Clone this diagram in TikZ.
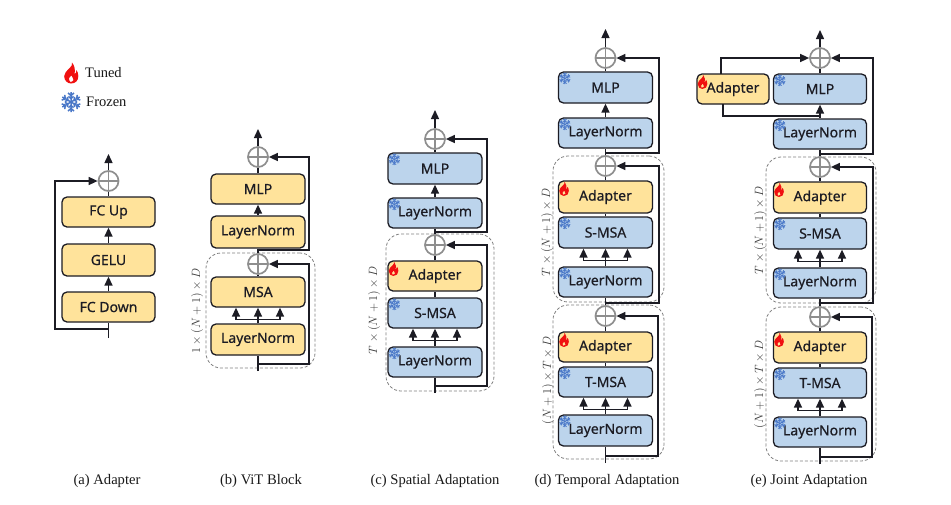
\documentclass[tikz,border=0pt]{standalone}
\usepackage{fontspec}
\setmainfont{Liberation Serif}
\newfontfamily\boxfont[FakeBold=0.5]{Noto Sans}
\usetikzlibrary{arrows.meta,calc}
\definecolor{tuned}{HTML}{FFE39B}
\definecolor{frozen}{HTML}{BCD4EC}
\definecolor{ink}{HTML}{1C1C24}
\definecolor{ringc}{HTML}{8E8E8E}
\definecolor{dashc}{HTML}{808080}
\definecolor{snowc}{HTML}{4A78C8}
\definecolor{flamec}{HTML}{F01010}
\tikzset{
  x=1pt,y=-1pt,
  blockbase/.style={draw=ink,line width=1.3pt,rounded corners=5pt,inner sep=0pt,text=ink,font=\boxfont\fontsize{14}{16}\selectfont},
  tunedbox/.style={blockbase,fill=tuned},
  frozenbox/.style={blockbase,fill=frozen},
  groupbox/.style={draw=dashc,line width=0.8pt,dash pattern=on 3pt off 2pt,rounded corners=15pt,inner sep=0pt},
  ring/.style={circle,draw=ringc,line width=1.7pt,inner sep=0pt,minimum size=20pt,
    path picture={\draw[ringc,line width=1.6pt] (path picture bounding box.north)--(path picture bounding box.south) (path picture bounding box.west)--(path picture bounding box.east);}},
  conn/.style={draw=ink,line width=1.4pt},
  arr/.style={conn,-{Triangle[length=9pt,width=8pt]}},
  dimlabel/.style={rotate=90,text=black!78,font=\fontsize{11.5}{13}\selectfont},
  caption/.style={text=black!90,font=\fontsize{14.6}{16}\selectfont},
  legendtext/.style={text=black!90,inner sep=0pt,font=\fontsize{14.5}{16}\selectfont},
  pics/flame/.style={code={
    \fill[flamec,even odd rule] (1,-10.5) .. controls (3,-6) and (-6.5,-3) .. (-6.8,3)
      .. controls (-7,7.5) and (-3.5,10.5) .. (0,10.5)
      .. controls (4.5,10.5) and (7.5,7.5) .. (7.3,3)
      .. controls (7.2,0.5) and (6.5,-1.5) .. (5.5,-3)
      .. controls (5.5,-1) and (5,0.3) .. (3.5,1)
      .. controls (4.5,-3) and (3.5,-7.5) .. (1,-10.5) -- cycle
      (-1,8.8) .. controls (-3,7.5) and (-2.5,4.5) .. (0.5,2.5)
      .. controls (0.5,4.5) and (3,5) .. (2.5,7) .. controls (2,8.5) and (0.5,9.2) .. (-1,8.8) -- cycle;
  }},
  pics/snow/.style={code={
    \foreach \ang in {0,60,...,300}{
      \draw[snowc,line width=#1,rotate=\ang] (0,0)--(0,-10) (-3,-9)--(0,-6.5)--(3,-9) (-2.6,-5.6)--(0,-3.5)--(2.6,-5.6);
    }
  }}
}
% name, x1,y1,x2,y2, text, style
\newcommand{\blk}[7]{%
  \pgfmathsetmacro{\bw}{#4-#2}\pgfmathsetmacro{\bh}{#5-#3}%
  \pgfmathsetmacro{\bx}{(#2+#4)/2}\pgfmathsetmacro{\by}{(#3+#5)/2}%
  \node[#7,minimum width=\bw pt,minimum height=\bh pt] (#1) at (\bx,\by) {#6};}
\newcommand{\tblk}[6]{\blk{#1}{#2}{#3}{#4}{#5}{#6}{tunedbox}}
\newcommand{\tblkI}[6]{\blk{#1}{#2}{#3}{#4}{#5}{#6}{tunedbox}\pic[scale=0.68] at ($(#1.north west)+(6,8.5)$) {flame};}
\newcommand{\fblkI}[6]{\blk{#1}{#2}{#3}{#4}{#5}{#6}{frozenbox}\pic[scale=0.58] at ($(#1.north west)+(7,7)$) {snow=0.75pt};}
\newcommand{\grp}[5]{\blk{#1}{#2}{#3}{#4}{#5}{}{groupbox}}
\newcommand{\fork}[2]{%
  \draw[conn] ($(#2.south)+(-22,12)$)--($(#2.south)+(22,12)$);
  \draw[arr] ($(#2.south)+(-22,12)$)--($(#2.south)+(-22,0)$);
  \draw[arr] ($(#2.south)+(22,12)$)--($(#2.south)+(22,0)$);
  \draw[arr] (#1.north)--(#2.south);}
\begin{document}
\begin{tikzpicture}
\useasboundingbox (0,0) rectangle (951,504);
\fill[white] (0,0) rectangle (951,504);
% legend
\pic at (71,73) {flame};
\node[legendtext,anchor=west] (lt) at (85,73) {Tuned};
\pic at (71,102) {snow=1.5pt};
\node[legendtext,anchor=west] (lf) at (86,102) {Frozen};
% (a)
\tblk{afu}{62}{197}{155}{227}{FC Up}
\tblk{age}{62}{244}{155}{276}{GELU}
\tblk{afd}{62}{292}{155}{322}{FC Down}
\node[ring] (ac) at (108.5,181) {};
\coordinate (atop) at (108.5,154);
\coordinate (abot) at (108.5,338);
\coordinate (abr) at (108.5,329);
\coordinate (asl) at (55,181);
\draw[arr] (ac)--(atop);
\draw[conn] (afu)--(ac);
\draw[arr] (age)--(afu);
\draw[arr] (afd)--(age);
\draw[conn] (abot)--(afd);
\draw[arr] (abr)-|(asl)--(ac);
\node[caption] (ca) at (107,481) {(a) Adapter};
% (b)
\grp{bg}{206}{253}{315}{368}
\tblk{bm}{211}{174}{305}{204}{MLP}
\tblk{bl}{211}{216}{305}{248}{LayerNorm}
\tblk{bs}{211}{277}{305}{307}{MSA}
\tblk{bn}{211}{324}{305}{355}{LayerNorm}
\node[ring] (bc1) at (258,157) {};
\node[ring] (bc2) at (258,264) {};
\coordinate (btop) at (258,129);
\coordinate (bbot) at (258,371);
\coordinate (bb1) at (258,250);
\coordinate (bb2) at (258,364);
\coordinate (bs1) at (309,157);
\coordinate (bs2) at (309,264);
\draw[arr] (bc1)--(btop);
\draw[conn] (bm)--(bc1);
\draw[arr] (bl)--(bm);
\draw[conn] (bc2)--(bl);
\draw[conn] (bs)--(bc2);
\fork{bn}{bs}
\draw[conn] (bbot)--(bn);
\draw[arr] (bb1)-|(bs1)--(bc1);
\draw[arr] (bb2)-|(bs2)--(bc2);
\node[dimlabel] (bd) at (197,311) {$1\times(N+1)\times D$};
\node[caption] (cb) at (261,481) {(b) ViT Block};
% (c)
\grp{cg}{386}{234}{494}{391}
\fblkI{cm}{388}{153}{482}{184}{MLP}
\fblkI{cl}{388}{198}{482}{228}{LayerNorm}
\tblkI{ca2}{388}{261}{482}{291}{Adapter}
\fblkI{cs}{388}{298}{482}{328}{S-MSA}
\fblkI{cn}{388}{347}{482}{377}{LayerNorm}
\node[ring] (cc1) at (435,139) {};
\node[ring] (cc2) at (435,245) {};
\coordinate (ctop) at (435,110);
\coordinate (cbot) at (435,393);
\coordinate (cb1) at (435,232);
\coordinate (cb2) at (435,386);
\coordinate (cs1) at (487,139);
\coordinate (cs2) at (487,245);
\draw[arr] (cc1)--(ctop);
\draw[conn] (cm)--(cc1);
\draw[arr] (cl)--(cm);
\draw[conn] (cc2)--(cl);
\draw[conn] (ca2)--(cc2);
\draw[conn] (cs)--(ca2);
\fork{cn}{cs}
\draw[conn] (cbot)--(cn);
\draw[arr] (cb1)-|(cs1)--(cc1);
\draw[arr] (cb2)-|(cs2)--(cc2);
\node[dimlabel] (cd) at (374,310) {$T\times(N+1)\times D$};
\node[caption] (cc) at (435,481) {(c) Spatial Adaptation};
% (d)
\grp{dg1}{553}{156}{664}{302}
\grp{dg2}{553}{305}{664}{459}
\fblkI{dm}{558.5}{72}{652.5}{103}{MLP}
\fblkI{dl}{558.5}{118}{652.5}{148}{LayerNorm}
\tblkI{da1}{558.5}{181}{652.5}{213}{Adapter}
\fblkI{ds}{558.5}{217}{652.5}{248}{S-MSA}
\fblkI{dn1}{558.5}{267}{652.5}{297}{LayerNorm}
\tblkI{da2}{558.5}{332}{652.5}{362}{Adapter}
\fblkI{dt}{558.5}{367}{652.5}{397}{T-MSA}
\fblkI{dn2}{558.5}{415}{652.5}{446}{LayerNorm}
\node[ring] (dc1) at (605.5,58) {};
\node[ring] (dc2) at (605.5,166) {};
\node[ring] (dc3) at (605.5,316) {};
\coordinate (dtop) at (605.5,29);
\coordinate (dbot) at (605.5,463);
\coordinate (db1) at (605.5,153);
\coordinate (db2) at (605.5,303);
\coordinate (db3) at (605.5,456);
\coordinate (ds1) at (659,58);
\coordinate (ds2) at (659,166);
\coordinate (ds3) at (658,316);
\draw[arr] (dc1)--(dtop);
\draw[conn] (dm)--(dc1);
\draw[arr] (dl)--(dm);
\draw[conn] (dc2)--(dl);
\draw[conn] (da1)--(dc2);
\draw[conn] (ds)--(da1);
\fork{dn1}{ds}
\draw[conn] (dc3)--(dn1);
\draw[conn] (da2)--(dc3);
\draw[conn] (dt)--(da2);
\fork{dn2}{dt}
\draw[conn] (dbot)--(dn2);
\draw[arr] (db1)-|(ds1)--(dc1);
\draw[arr] (db2)-|(ds2)--(dc2);
\draw[arr] (db3)-|(ds3)--(dc3);
\node[dimlabel] (dd1) at (547,232) {$T\times(N+1)\times D$};
\node[dimlabel] (dd2) at (548,380) {$(N+1)\times T\times D$};
\node[caption] (cd2) at (607,481) {(d) Temporal Adaptation};
% (e)
\grp{eg1}{766}{157}{876}{303}
\grp{eg2}{766}{307}{876}{461}
\tblkI{ea0}{697}{74}{769}{104}{Adapter}
\fblkI{em}{773.5}{74}{866.5}{104}{MLP}
\fblkI{el}{773.5}{119}{866.5}{149}{LayerNorm}
\tblkI{ea1}{773.5}{182}{866.5}{213}{Adapter}
\fblkI{es}{773.5}{218}{866.5}{249}{S-MSA}
\fblkI{en1}{773.5}{268}{866.5}{298}{LayerNorm}
\tblkI{ea2}{773.5}{332}{866.5}{363}{Adapter}
\fblkI{et}{773.5}{368}{866.5}{398}{T-MSA}
\fblkI{en2}{773.5}{417}{866.5}{447}{LayerNorm}
\node[ring] (ec1) at (820,58) {};
\node[ring] (ec2) at (820,167) {};
\node[ring] (ec3) at (820,317) {};
\coordinate (etop) at (820,30);
\coordinate (ebot) at (820,464);
\coordinate (eb1) at (820,154);
\coordinate (eb2) at (820,303);
\coordinate (eb3) at (820,457);
\coordinate (es1) at (873,58);
\coordinate (es2) at (873,167);
\coordinate (es3) at (872,317);
\coordinate (eao) at (721,74);
\coordinate (eac) at (721,58);
\coordinate (eai) at (723,104);
\coordinate (eaj) at (723,116);
\coordinate (eak) at (820,116);
\draw[arr] (ec1)--(etop);
\draw[conn] (em)--(ec1);
\draw[arr] (el)--(em);
\draw[conn] (ec2)--(el);
\draw[conn] (ea1)--(ec2);
\draw[conn] (es)--(ea1);
\fork{en1}{es}
\draw[conn] (ec3)--(en1);
\draw[conn] (ea2)--(ec3);
\draw[conn] (et)--(ea2);
\fork{en2}{et}
\draw[conn] (ebot)--(en2);
\draw[arr] (eao)--(eac)--(ec1);
\draw[conn] (eai)--(eaj)--(eak);
\draw[arr] (eb1)-|(es1)--(ec1);
\draw[arr] (eb2)-|(es2)--(ec2);
\draw[arr] (eb3)-|(es3)--(ec3);
\node[dimlabel] (ed1) at (760,230) {$T\times(N+1)\times D$};
\node[dimlabel] (ed2) at (760,384) {$(N+1)\times T\times D$};
\node[caption] (ce) at (809,481) {(e) Joint Adaptation};
\end{tikzpicture}
\end{document}
